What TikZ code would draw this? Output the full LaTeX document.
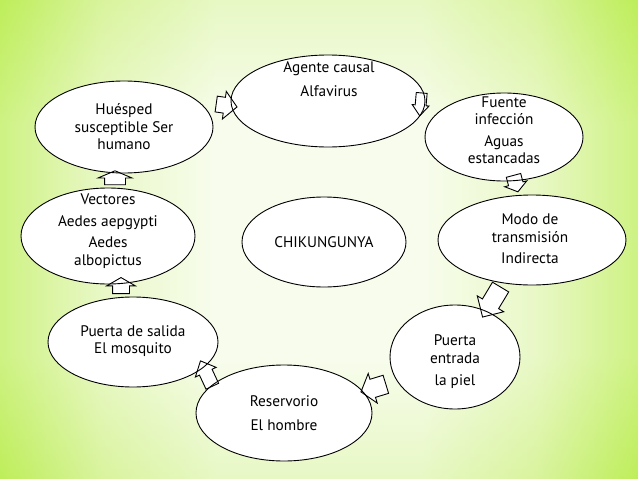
\documentclass[tikz,border=0pt]{standalone}
\usepackage{fontspec}
\setmainfont{PT Sans}
\usetikzlibrary{shapes.geometric,shapes.arrows}
\definecolor{bgin}{RGB}{246,252,232}
\definecolor{bgmid}{RGB}{226,246,180}
\definecolor{bgout}{RGB}{190,238,90}
\pgfdeclarehorizontalshading{bgh}{100bp}{color(0bp)=(bgout); color(25bp)=(bgout); color(33bp)=(bgmid); color(42bp)=(bgin); color(58bp)=(bgin); color(67bp)=(bgmid); color(75bp)=(bgout); color(100bp)=(bgout)}
\pgfdeclareverticalshading{bgv}{100bp}{color(0bp)=(bgout); color(25bp)=(bgout); color(38bp)=(white); color(62bp)=(white); color(75bp)=(bgout); color(100bp)=(bgout)}
\begin{document}
\begin{tikzpicture}[x=1pt,y=-1pt,
  bub/.style={ellipse, fill=white, inner sep=0pt},
  rim/.style={draw=black, line width=0.9pt},
  lab/.style={align=center, font=\fontsize{15.3}{17.5}\selectfont, inner sep=0pt, text=black},
  barrow/.style={single arrow, draw=black, line width=0.9pt, fill=white, inner xsep=0pt, minimum width=0pt}]
\useasboundingbox (0,0) rectangle (638,479);
\shade[shading=bgh] (0,0) rectangle (638,479);
\shade[shading=bgv, opacity=0.25] (0,0) rectangle (638,479);
% ellipse fills
\node[bub, minimum width=194pt, minimum height=92pt] (agente) at (328,101) {};
\node[bub, minimum width=158pt, minimum height=88pt] (fuente) at (504,137) {};
\node[bub, minimum width=188pt, minimum height=90pt] (modo) at (532,240) {};
\node[bub, minimum width=130pt, minimum height=104pt] (entrada) at (455,357) {};
\node[bub, minimum width=176pt, minimum height=96pt] (reserv) at (284,413) {};
\node[bub, minimum width=170pt, minimum height=90pt] (salida) at (133,342) {};
\node[bub, minimum width=174pt, minimum height=96pt] (vect) at (108,236) {};
\node[bub, minimum width=178pt, minimum height=92pt] (huesped) at (124,127) {};
\node[bub, minimum width=164pt, minimum height=90pt] (chik) at (324,242) {};
% block arrows
\node[barrow, rotate=-8, minimum height=21pt, inner ysep=7.5pt, single arrow head extend=6pt, single arrow tip angle=95] (a1) at (223,105) {};
\node[barrow, rotate=-95, minimum height=23pt, inner ysep=5pt, single arrow head extend=3pt, single arrow tip angle=77] (a2) at (421,101) {};
\node[barrow, rotate=-75, minimum height=17pt, inner ysep=7pt, single arrow head extend=4pt, single arrow tip angle=108] (a3) at (515,181) {};
\node[barrow, rotate=-121, minimum height=35pt, inner ysep=9pt, single arrow head extend=6pt, single arrow tip angle=90] (a4) at (494,298) {};
\node[barrow, rotate=197, minimum height=26pt, inner ysep=9pt, single arrow head extend=6pt, single arrow tip angle=103] (a5) at (377,387) {};
\node[barrow, rotate=115, minimum height=28pt, inner ysep=6.5pt, single arrow head extend=4.5pt, single arrow tip angle=85] (a6) at (208,377) {};
\node[barrow, rotate=90, minimum height=16pt, inner ysep=8pt, single arrow head extend=6pt, single arrow tip angle=120] (a7) at (121,288) {};
\node[barrow, rotate=90, minimum height=14pt, inner ysep=10pt, single arrow head extend=6.5pt, single arrow tip angle=134] (a8) at (115,180) {};
% ellipse outlines
\draw[rim] (agente.center) ellipse [x radius=97pt, y radius=46pt];
\draw[rim] (fuente.center) ellipse [x radius=79pt, y radius=44pt];
\draw[rim] (modo.center) ellipse [x radius=94pt, y radius=45pt];
\draw[rim] (entrada.center) ellipse [x radius=65pt, y radius=52pt];
\draw[rim] (reserv.center) ellipse [x radius=88pt, y radius=48pt];
\draw[rim] (salida.center) ellipse [x radius=85pt, y radius=45pt];
\draw[rim] (vect.center) ellipse [x radius=87pt, y radius=48pt];
\draw[rim] (huesped.center) ellipse [x radius=89pt, y radius=46pt];
\draw[rim] (chik.center) ellipse [x radius=82pt, y radius=45pt];
% texts
\node[lab] (tagente) at (329,79) {Agente causal\\[6pt]Alfavirus};
\node[lab] (tfuente) at (504,130) {Fuente\\infección\\[4pt]Aguas\\estancadas};
\node[lab] (tmodo) at (530,239) {Modo de\\transmisión\\[4pt]Indirecta};
\node[lab] (tentrada) at (455,362) {Puerta\\entrada\\[5pt]la piel};
\node[lab] (treserv) at (284,413) {Reservorio\\[6pt]El hombre};
\node[lab] (tsalida) at (133,341) {Puerta de salida\\El mosquito};
\node[lab] (tvect) at (108,231) {Vectores\\[4pt]Aedes aepgypti\\[4pt]Aedes\\albopictus};
\node[lab] (thuesped) at (124,127) {Huésped\\susceptible Ser\\humano};
\node[lab] (tchik) at (324,242) {CHIKUNGUNYA};
\end{tikzpicture}
\end{document}
